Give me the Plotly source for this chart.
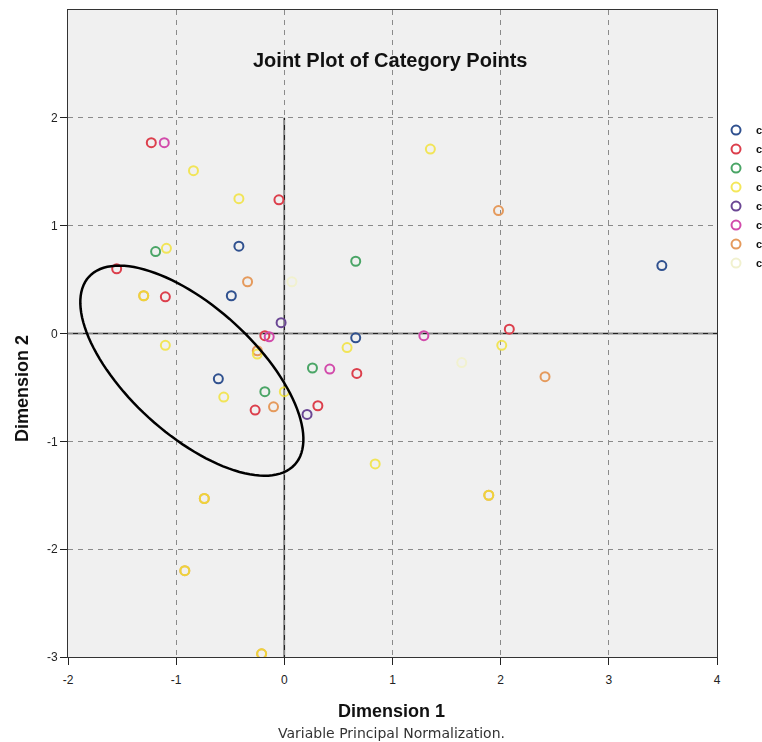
import numpy as np
import plotly.graph_objects as go

# category point coordinates (Dimension 1, Dimension 2)
blue_x = [-0.42, -0.49, -0.61, 0.66, 3.49]
blue_y = [0.81, 0.35, -0.42, -0.04, 0.63]

red_x = [-1.23, -0.05, -1.55, -1.10, -0.18, -0.27, 0.31, 0.67, 2.08]
red_y = [1.77, 1.24, 0.60, 0.34, -0.02, -0.71, -0.67, -0.37, 0.04]

green_x = [-1.19, 0.66, -0.18, 0.26]
green_y = [0.76, 0.67, -0.54, -0.32]

yellow_x = [-0.84, -0.42, 1.35, -1.09, -1.10, -0.56, 0.00, 0.58, 0.84, 2.01,
            -1.30, -0.25, -0.74, -0.92, -0.21, 1.89]
yellow_y = [1.51, 1.25, 1.71, 0.79, -0.11, -0.59, -0.54, -0.13, -1.21, -0.11,
            0.35, -0.19, -1.53, -2.20, -2.97, -1.50]

purple_x = [-0.03, 0.21]
purple_y = [0.10, -0.75]

magenta_x = [-1.11, -0.14, 0.42, 1.29]
magenta_y = [1.77, -0.03, -0.33, -0.02]

orange_x = [-0.34, 1.98, -0.10, 2.41, -1.30, -0.25, -0.74, -0.92, -0.21, 1.89]
orange_y = [0.48, 1.14, -0.68, -0.40, 0.35, -0.16, -1.53, -2.20, -2.97, -1.50]

pale_x = [0.07, 1.64]
pale_y = [0.48, -0.27]

# only the first letter of each legend label is visible in the picture
names = ["c", "c", "c", "c", "c", "c", "c", "c"]

x_ticks = [-2, -1, 0, 1, 2, 3, 4]
y_ticks = [-3, -2, -1, 0, 1, 2]

# ellipse drawn around the left cluster
ell_cx, ell_cy = -0.855, -0.345
ell_a, ell_b, ell_angle = 1.29, 0.59, -42.5

fig = go.Figure()

series = [
    (names[0], blue_x, blue_y, "#30518f", 1),
    (names[1], red_x, red_y, "#dc3f4c", 2),
    (names[2], green_x, green_y, "#4aa566", 3),
    (names[6], orange_x, orange_y, "#e59a5c", 7),
    (names[3], yellow_x, yellow_y, "#f2e232", 4),
    (names[4], purple_x, purple_y, "#6b4794", 5),
    (names[5], magenta_x, magenta_y, "#d24bab", 6),
    (names[7], pale_x, pale_y, "#f1f1cf", 8),
]
for name, xs, ys, col, rank in series:
    fig.add_trace(go.Scatter(
        x=xs, y=ys, mode="markers", name="<b>" + name + "</b>", legendrank=rank,
        opacity=0.8 if rank == 4 else 1,
        marker=dict(symbol="circle-open", size=9, color=col,
                    line=dict(width=2, color=col)),
    ))

t = np.linspace(0, 2 * np.pi, 121)
th = np.radians(ell_angle)
ex = ell_cx + ell_a * np.cos(t) * np.cos(th) - ell_b * np.sin(t) * np.sin(th)
ey = ell_cy + ell_a * np.cos(t) * np.sin(th) + ell_b * np.sin(t) * np.cos(th)
path = "M " + " L ".join(f"{a:.4f},{b:.4f}" for a, b in zip(ex, ey)) + " Z"

fig.add_shape(type="path", path=path, xref="x", yref="y",
              line=dict(color="black", width=2.5), layer="above")
# zero lines
fig.add_shape(type="line", x0=-2, x1=4, y0=0, y1=0, xref="x", yref="y",
              line=dict(color="#222222", width=1.5), layer="below")
fig.add_shape(type="line", x0=0, x1=0, y0=-3, y1=2, xref="x", yref="y",
              line=dict(color="#222222", width=1.5), layer="below")

font = "Liberation Sans, Arial, sans-serif"
ann = dict(xref="paper", yref="paper", showarrow=False, xanchor="center", yanchor="middle")
fig.add_annotation(text="<b>Joint Plot of Category Points</b>", x=0.496, y=0.9227,
                   font=dict(size=20, color="#111111", family=font), **ann)
fig.add_annotation(text="<b>Dimension 1</b>", x=0.499, y=-0.0835,
                   font=dict(size=18, color="#111111", family=font), **ann)
fig.add_annotation(text="Variable Principal Normalization.", x=0.499, y=-0.1175,
                   font=dict(size=14, color="#333333", family="DejaVu Sans, sans-serif"), **ann)
fig.add_annotation(text="<b>Dimension 2</b>", textangle=-90, x=-0.0709, y=0.4158,
                   font=dict(size=18, color="#111111", family=font), **ann)

axis_common = dict(showgrid=True, gridcolor="#8a8a8a", gridwidth=1, griddash="5px,5px",
                   zeroline=False, showline=True, linecolor="#333333", linewidth=1, mirror=True,
                   ticks="outside", ticklen=7, tickcolor="#222222",
                   tickfont=dict(size=12, color="#222222", family=font))
fig.update_xaxes(range=[-2, 4], tickvals=x_ticks, ticktext=[str(v) for v in x_ticks],
                 ticklabelstandoff=5, **axis_common)
fig.update_yaxes(range=[-3, 3], tickvals=y_ticks, ticktext=[str(v) for v in y_ticks], **axis_common)

fig.update_layout(
    width=762, height=742,
    margin=dict(l=68, r=45, t=10, b=85, autoexpand=False),
    plot_bgcolor="#f0f0f0", paper_bgcolor="white",
    showlegend=True,
    legend=dict(x=0.9985, y=0.8443, xref="paper", yref="container",
                xanchor="left", yanchor="top",
                font=dict(size=11, color="#111111", family=font),
                bgcolor="rgba(0,0,0,0)"),
)

# drop the default page margin so the figure fills the window without scrollbars
fig.write_html("out.html", config={"displayModeBar": False},
               post_script="document.body.style.margin='0';"
                           "document.documentElement.style.overflow='hidden';")
